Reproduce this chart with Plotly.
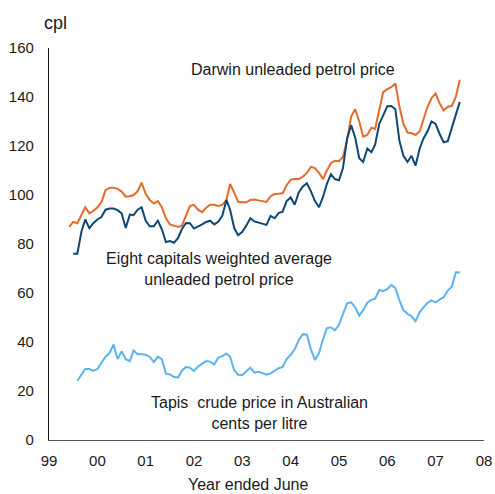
import pandas as pd
import plotly.graph_objects as go

# Monthly observations, Nov 1999 - Dec 2007
months = pd.date_range("1999-11-01", "2007-12-01", freq="MS")

darwin = [
    87, 89, 88.5, 92, 95, 92.5, 93.5, 95, 97, 102,
    103, 103, 102.5, 101.4, 99.3, 99.5, 100, 101.5, 105, 100.5,
    98, 96.5, 97.5, 95, 90.5, 88, 87.5, 87, 87.5, 91.5,
    95.5, 96, 94, 93, 94.8, 96, 96, 95.5, 96, 98,
    104.5, 101, 97.2, 97, 97, 98, 98.2, 97.8, 97.5, 97.2,
    99.5, 100.4, 100.5, 100.7, 104, 106.3, 106.5, 106.5, 107.5, 109,
    111.5, 111, 109, 106.5, 110, 113, 114, 113.8, 115.5, 122.5,
    132, 135, 130, 123.8, 124.5, 127.5, 127, 135, 142, 143.2,
    144, 145.5, 136, 129, 125.5, 125.2, 124.5, 126, 130.5, 136,
    139.5, 141.5, 137.5, 134.5, 136, 136.3, 140, 147,
]

eight_capitals = [None,
    76, 76, 85, 90, 86.5, 88.5, 90, 91, 94,
    94.5, 94.5, 93.8, 92.5, 86.5, 92, 91.8, 94, 95, 89.5,
    87.2, 87.2, 89.5, 86, 80.8, 81.2, 80.5, 82.5, 86, 88.6,
    88.5, 86.3, 87, 88, 89, 89.5, 88, 89.1, 91.5, 98,
    94, 86.5, 83.6, 85, 87.5, 90.5, 89.2, 88.7, 88.1, 87.8,
    91.5, 90.5, 92.6, 93.2, 97.5, 99, 96, 101, 103.5, 104.8,
    101.5, 97.5, 95, 99.3, 104.5, 108.5, 106.5, 106, 111, 123,
    128.5, 123.5, 115, 113.5, 119, 117.5, 120.5, 129, 132.5, 136.2,
    136.3, 135, 122, 116, 113.5, 116, 112, 119, 123, 126,
    130, 129, 125, 121.5, 122, 127, 132.5, 138,
]

tapis = [None, None,
    24.2, 26.5, 29, 29, 28.2, 29, 31.5, 34,
    35.5, 39, 33, 36.2, 33, 32.2, 36.5, 35, 35, 34.8,
    34, 31.8, 34, 33, 27, 26.8, 25.7, 25.5, 28.3, 29.8,
    29.5, 28.2, 30, 31.2, 32.2, 32, 30.8, 33.6, 34.2, 35.3,
    34, 28.5, 26.6, 26.5, 28, 29.5, 27.5, 27.8, 27.3, 26.7,
    27.2, 28.2, 29.3, 29.8, 33, 34.8, 37, 40.8, 43.2, 43,
    37, 32.7, 35.5, 41.3, 45.6, 46, 44.8, 47, 51.5, 55.8,
    56.2, 54.2, 50.8, 53, 56, 57.2, 57.7, 61.2, 60.7, 61.6,
    63.3, 62, 57, 53, 51.5, 50.5, 48.5, 52.2, 54, 56,
    57, 56.2, 57.3, 58.3, 61, 62.5, 68.5, 68.4,
]

year_ticks = pd.date_range("1999-06-01", "2008-06-01", freq="12MS")
year_labels = ["99", "00", "01", "02", "03", "04", "05", "06", "07", "08"]
y_ticks = [0, 20, 40, 60, 80, 100, 120, 140, 160]

FONT = "Liberation Sans, Arial, sans-serif"
TXT = "#1a1a1a"

fig = go.Figure()
fig.add_trace(go.Scatter(x=months, y=tapis, mode="lines",
                         line=dict(color="#5AB4F2", width=2), name="Tapis"))
fig.add_trace(go.Scatter(x=months, y=darwin, mode="lines",
                         line=dict(color="#E8692C", width=2), name="Darwin"))
fig.add_trace(go.Scatter(x=months, y=eight_capitals, mode="lines",
                         line=dict(color="#0D4876", width=2), name="Eight capitals"))

fig.update_layout(
    width=495, height=494,
    margin=dict(l=49, r=11, t=48, b=54),
    paper_bgcolor="white", plot_bgcolor="white",
    showlegend=False,
    font=dict(family=FONT, size=15, color=TXT),
    xaxis=dict(
        type="date", automargin=False,
        range=[year_ticks[0], year_ticks[-1]],
        tickvals=list(year_ticks), ticktext=year_labels,
        showgrid=False, zeroline=False,
        showline=True, linecolor="#555555", linewidth=1,
        ticks="", ticklabelstandoff=7,
        tickfont=dict(family=FONT, size=15, color=TXT),
    ),
    yaxis=dict(
        automargin=False,
        range=[0, 160], tickvals=y_ticks,
        showgrid=False, zeroline=False,
        showline=True, linecolor="#111111", linewidth=1.3,
        ticks="", ticklabelstandoff=11,
        tickfont=dict(family=FONT, size=15, color=TXT),
    ),
)

ann = dict(xref="paper", yref="paper", showarrow=False,
           xanchor="center", yanchor="middle",
           font=dict(family=FONT, size=16, color=TXT))
fig.add_annotation(text="cpl", x=0.0138, y=1.064, font=dict(family=FONT, size=18, color=TXT),
                   xref="paper", yref="paper", showarrow=False,
                   xanchor="center", yanchor="middle")
fig.add_annotation(text="Darwin unleaded petrol price", x=0.561, y=0.944, **ann)
fig.add_annotation(text="Eight capitals weighted average<br>unleaded petrol price",
                   x=0.391, y=0.436, **ann)
fig.add_annotation(text="Tapis  crude price in Australian<br>cents per litre",
                   x=0.483, y=0.070, **ann)
fig.add_annotation(text="Year ended June", x=0.4586, y=-0.1125, **ann)

fig.write_html(
    "out.html",
    config={"displayModeBar": False},
    post_script="document.body.style.margin='0px';document.body.style.overflow='hidden';",
)
